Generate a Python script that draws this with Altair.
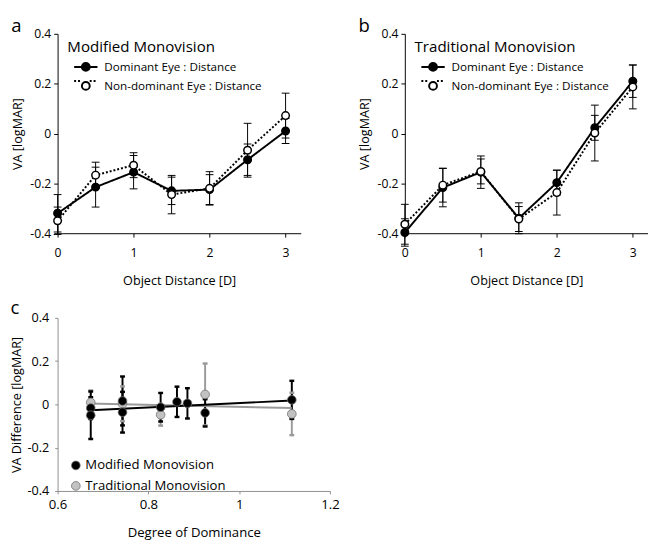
import altair as alt
import pandas as pd

FONT = "Open Sans"

# ---------------- data ----------------
dist = [0, 0.5, 1, 1.5, 2, 2.5, 3]
eye_labels = ["Dominant Eye : Distance", "Non-dominant Eye : Distance"]
line_keys = ["Dominant line", "Non-dominant line"]

# panel a: Modified Monovision
mod_dom = [-0.32, -0.215, -0.155, -0.23, -0.225, -0.105, 0.01]
mod_dom_sd = [0.075, 0.08, 0.067, 0.055, 0.06, 0.063, 0.05]
mod_non = [-0.35, -0.167, -0.127, -0.245, -0.22, -0.067, 0.072]
mod_non_sd = [0.055, 0.052, 0.05, 0.077, 0.067, 0.108, 0.09]

# panel b: Traditional Monovision
trad_dom = [-0.397, -0.217, -0.155, -0.34, -0.197, 0.023, 0.21]
trad_dom_sd = [0.055, 0.077, 0.065, 0.062, 0.05, 0.05, 0.065]
trad_non = [-0.364, -0.207, -0.152, -0.343, -0.237, 0.002, 0.187]
trad_non_sd = [0.08, 0.068, 0.05, 0.05, 0.09, 0.112, 0.088]

# panel c: VA difference vs degree of dominance
groups = ["Modified Monovision", "Traditional Monovision"]
mod_dod = [0.673, 0.673, 0.743, 0.743, 0.827, 0.863, 0.886, 0.925, 1.116]
mod_diff = [-0.017, -0.05, 0.016, -0.036, -0.013, 0.012, 0.005, -0.039, 0.021]
mod_err = [0.05, 0.11, 0.113, 0.094, 0.066, 0.07, 0.07, 0.063, 0.088]
trad_dod = [0.673, 0.743, 0.827, 0.925, 1.116]
trad_diff = [0.009, 0.003, -0.048, 0.046, -0.044]
trad_err = [0.055, 0.08, 0.05, 0.143, 0.098]
mod_fit_x = [0.673, 1.116]
mod_fit_y = [-0.027, 0.018]
trad_fit_x = [0.668, 1.116]
trad_fit_y = [0.004, -0.017]

y_ticks = [-0.4, -0.2, 0, 0.2, 0.4]
LABEL_EXPR = ("datum.value == 0 ? '0' : (datum.value < 0 ? '-' + format(abs(datum.value), '.1f')"
              " : format(datum.value, '.1f'))")

CIRCLE_PATH = "M-0.67,0A0.67,0.67,0,1,1,0.67,0A0.67,0.67,0,1,1,-0.67,0Z"
LINE_PATH = "M-2,0L-0.67,0M0.67,0L2,0"


def ab_panel(letter, name, dom, dom_sd, non, non_sd):
    df = pd.DataFrame({
        "dist": dist + dist,
        "va": dom + non,
        "sd": dom_sd + non_sd,
        "Eye": [eye_labels[0]] * len(dist) + [eye_labels[1]] * len(dist),
        "EyeLine": [line_keys[0]] * len(dist) + [line_keys[1]] * len(dist),
    })

    xaxis = alt.Axis(values=[0, 1, 2, 3], format="d", title="Object Distance [D]",
                     grid=False, domainColor="black", tickColor="black", tickSize=4,
                     labelPadding=10, labelFontSize=12.5, labelFont=FONT, labelColor="black",
                     titleFont=FONT, titleFontSize=13, titleFontWeight="normal",
                     titleColor="black", titlePadding=16, labelFlush=False)
    yaxis = alt.Axis(values=y_ticks, labelExpr=LABEL_EXPR, title="VA [logMAR]",
                     grid=False, domainColor="black", tickColor="black", tickSize=4,
                     labelPadding=3, labelFontSize=12.5, labelFont=FONT, labelColor="black",
                     titleFont=FONT, titleFontSize=13, titleFontWeight="normal",
                     titleColor="black", titlePadding=6, labelFlush=False)
    xs = alt.Scale(domain=[0, 3.2], nice=False)
    ys = alt.Scale(domain=[-0.4, 0.4], nice=False)
    X = alt.X("dist:Q", scale=xs, axis=xaxis)

    base = alt.Chart(df)
    err = base.transform_calculate(lo="datum.va - datum.sd", hi="datum.va + datum.sd")
    rules = err.mark_rule(color="black", strokeWidth=1).encode(
        x=X, y=alt.Y("lo:Q", scale=ys, axis=yaxis), y2="hi:Q")
    cap_lo = err.mark_tick(orient="horizontal", size=8, thickness=1, color="black", opacity=1).encode(
        x=X, y=alt.Y("lo:Q", scale=ys, axis=yaxis))
    cap_hi = err.mark_tick(orient="horizontal", size=8, thickness=1, color="black", opacity=1).encode(
        x=X, y=alt.Y("hi:Q", scale=ys, axis=yaxis))

    lines = base.mark_line(color="black", strokeWidth=2).encode(
        x=X, y=alt.Y("va:Q", scale=ys, axis=yaxis),
        strokeDash=alt.StrokeDash(
            "EyeLine:N",
            scale=alt.Scale(domain=line_keys, range=[[1, 0], [2, 2]]),
            legend=alt.Legend(title=None, orient="none", legendX=22, legendY=27,
                              symbolType=LINE_PATH, symbolSize=144,
                              symbolStrokeColor="black", symbolStrokeWidth=2,
                              labelExpr="' '",
                              labelFont=FONT, labelFontSize=12, labelColor="black",
                              labelOffset=12, labelOpacity=0, labelLimit=400,
                              padding=0, rowPadding=1.5)))
    points = base.mark_point(shape="circle", size=60, stroke="black", strokeWidth=1.5,
                             opacity=1).encode(
        x=X, y=alt.Y("va:Q", scale=ys, axis=yaxis),
        fill=alt.Fill(
            "Eye:N",
            scale=alt.Scale(domain=eye_labels, range=["black", "white"]),
            legend=alt.Legend(title=None, orient="none", legendX=22, legendY=27,
                              symbolType=CIRCLE_PATH, symbolSize=144,
                              symbolStrokeColor="black", symbolStrokeWidth=2,
                              symbolOpacity=1, labelLimit=400,
                              labelFont=FONT, labelFontSize=12, labelColor="black",
                              labelOffset=12, padding=0, rowPadding=1.5)))
    name_text = alt.Chart(pd.DataFrame({"label": [name]})).mark_text(
        align="left", baseline="middle", font=FONT, fontSize=15.5, color="black").encode(
        text="label:N", x=alt.value(10), y=alt.value(14))

    return alt.layer(rules, cap_lo, cap_hi, lines, points, name_text).properties(
        width=250, height=205,
        title=alt.Title(letter, anchor="start", frame="bounds", font=FONT, fontSize=19,
                        fontWeight="normal", color="black", offset=-8))


panel_a = ab_panel("a", "Modified Monovision", mod_dom, mod_dom_sd, mod_non, mod_non_sd)
panel_b = ab_panel("b", "Traditional Monovision", trad_dom, trad_dom_sd, trad_non, trad_non_sd)

# ---------------- panel c ----------------
df_c = pd.DataFrame({
    "dod": trad_dod + mod_dod,
    "diff": trad_diff + mod_diff,
    "err": trad_err + mod_err,
    "Group": [groups[1]] * len(trad_dod) + [groups[0]] * len(mod_dod),
})
df_fit = pd.DataFrame({
    "dod": trad_fit_x + mod_fit_x,
    "diff": trad_fit_y + mod_fit_y,
    "Group": [groups[1]] * len(trad_fit_x) + [groups[0]] * len(mod_fit_x),
})

cxaxis = alt.Axis(values=[0.6, 0.8, 1, 1.2], format="~g", title="Degree of Dominance",
                  grid=False, domainColor="#8c8c8c", tickColor="#8c8c8c", tickSize=3,
                  labelPadding=4, labelFontSize=13.5, labelFont=FONT, labelColor="black",
                  titleFont=FONT, titleFontSize=13.5, titleFontWeight="normal",
                  titleColor="black", titlePadding=15, labelFlush=False)
cyaxis = alt.Axis(values=y_ticks, labelExpr=LABEL_EXPR, title="VA Difference [logMAR]",
                  grid=False, domainColor="#8c8c8c", tickColor="#8c8c8c", tickSize=3,
                  labelPadding=6, labelFontSize=13, labelFont=FONT, labelColor="black",
                  titleFont=FONT, titleFontSize=13, titleFontWeight="normal",
                  titleColor="black", titlePadding=4, labelFlush=False)
cxs = alt.Scale(domain=[0.6, 1.2], nice=False)
cys = alt.Scale(domain=[-0.4, 0.4], nice=False)
CX = alt.X("dod:Q", scale=cxs, axis=cxaxis)
# colour scale for bars and fit lines (listed in reverse so it is kept apart from the fill legend)
col_scale = alt.Scale(domain=[groups[1], groups[0]], range=["#9a9a9a", "black"])

cbase = alt.Chart(df_c)
cerr = cbase.transform_calculate(lo="datum.diff - datum.err", hi="datum.diff + datum.err")
c_rules = cerr.mark_rule(strokeWidth=2).encode(
    x=CX, y=alt.Y("lo:Q", scale=cys, axis=cyaxis), y2="hi:Q",
    color=alt.Color("Group:N", scale=col_scale, legend=None))
c_cap_lo = cerr.mark_tick(orient="horizontal", size=5, thickness=2.5, opacity=1).encode(
    x=CX, y=alt.Y("lo:Q", scale=cys, axis=cyaxis),
    color=alt.Color("Group:N", scale=col_scale, legend=None))
c_cap_hi = cerr.mark_tick(orient="horizontal", size=5, thickness=2.5, opacity=1).encode(
    x=CX, y=alt.Y("hi:Q", scale=cys, axis=cyaxis),
    color=alt.Color("Group:N", scale=col_scale, legend=None))
c_fit = alt.Chart(df_fit).mark_line(strokeWidth=2).encode(
    x=CX, y=alt.Y("diff:Q", scale=cys, axis=cyaxis),
    color=alt.Color("Group:N", scale=col_scale, legend=None))
c_points = cbase.mark_point(shape="circle", size=80, strokeWidth=0.8, stroke="#707070",
                            opacity=1).encode(
    x=CX, y=alt.Y("diff:Q", scale=cys, axis=cyaxis),
    fill=alt.Fill("Group:N", scale=alt.Scale(domain=groups, range=["black", "#c2c2c2"]),
                  legend=alt.Legend(title=None, orient="none", legendX=12, legendY=145,
                                    symbolType="circle", symbolSize=80,
                                    symbolStrokeColor="#707070", symbolStrokeWidth=0.8,
                                    symbolOpacity=1, labelFont=FONT, labelFontSize=13.5,
                                    labelColor="black", labelOffset=3, padding=0,
                                    labelLimit=400, rowPadding=6)))

panel_c = alt.layer(c_rules, c_cap_lo, c_cap_hi, c_fit, c_points).properties(
    width=280, height=178,
    title=alt.Title("c", anchor="start", frame="bounds", font=FONT, fontSize=19,
                    fontWeight="normal", color="black", offset=-6))

top = alt.hconcat(panel_a, panel_b, spacing=59).resolve_scale(
    fill="independent", strokeDash="independent")
chart = alt.vconcat(top, panel_c, spacing=12).resolve_scale(
    fill="independent", strokeDash="independent", color="independent").properties(
    padding={"left": 2, "top": 2, "right": 0, "bottom": 0}).configure_view(stroke=None)

chart.save("out.html", embed_options={"renderer": "svg", "actions": False})
